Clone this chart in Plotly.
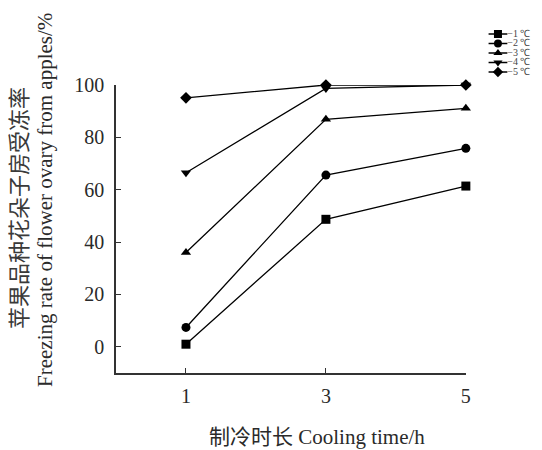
import plotly.graph_objects as go

cooling_time = [1, 3, 5]
series_names = ["−1 ℃", "−2 ℃", "−3 ℃", "−4 ℃", "−5 ℃"]
freeze_m1 = [1.0, 48.7, 61.4]
freeze_m2 = [7.4, 65.6, 75.8]
freeze_m3 = [36.0, 86.9, 91.1]
freeze_m4 = [66.5, 98.7, 100.0]
freeze_m5 = [95.1, 100.0, 100.0]
series_values = [freeze_m1, freeze_m2, freeze_m3, freeze_m4, freeze_m5]
symbols = ["square", "circle", "triangle-up", "triangle-down", "diamond"]
x_ticks = [1, 3, 5]
y_ticks = [0, 20, 40, 60, 80, 100]

W, H = 542, 450
L, R, T, B = 116, 0, 25, 77
pw = W - L - R
ph = H - T - B
plot_right = 470
plot_top = 85

serif = "Liberation Serif, Times New Roman, serif"
cjk = "Liberation Serif, Noto Sans CJK SC, serif"
txt_color = "#2a2a2a"

fig = go.Figure()
for name, vals, sym in zip(series_names, series_values, symbols):
    fig.add_trace(go.Scatter(
        x=cooling_time, y=vals, mode="lines+markers", name=name,
        line=dict(color="black", width=1.3),
        marker=dict(symbol=sym, size=9, color="black"),
        cliponaxis=False, showlegend=False,
    ))

# custom compact legend on auxiliary axes
for i, (name, sym) in enumerate(zip(series_names, symbols)):
    fig.add_trace(go.Scatter(x=[13, 32], y=[i, i], mode="lines",
                             line=dict(color="black", width=1.5),
                             xaxis="x2", yaxis="y2", showlegend=False, cliponaxis=False))
    fig.add_trace(go.Scatter(x=[22.5], y=[i], mode="markers",
                             marker=dict(symbol=sym, size=8, color="black"),
                             xaxis="x2", yaxis="y2", showlegend=False, cliponaxis=False))
    fig.add_trace(go.Scatter(x=[32], y=[i], mode="text", text=[name],
                             textposition="middle right",
                             textfont=dict(family=serif, size=10, color="#444"),
                             xaxis="x2", yaxis="y2", showlegend=False, cliponaxis=False))

leg_top_px, leg_bot_px = 25, 80
first_px, step_px = 34, 9.5
fig.update_layout(
    width=W, height=H,
    margin=dict(l=L, r=R, t=T, b=B, pad=0),
    paper_bgcolor="white", plot_bgcolor="white",
    font=dict(family=serif, size=20, color=txt_color),
    xaxis=dict(
        domain=[0, (plot_right - L) / pw],
        range=[0, 5], tickvals=x_ticks, ticktext=[str(v) for v in x_ticks],
        ticks="inside", ticklen=5, tickcolor="#333", tickwidth=1,
        showline=True, linecolor="#333", linewidth=1.5,
        showgrid=False, zeroline=False, ticklabelstandoff=4,
        tickfont=dict(family=serif, size=20, color=txt_color),
    ),
    yaxis=dict(
        domain=[0, (H - B - plot_top) / ph],
        range=[-10, 100], tickvals=y_ticks,
        ticks="inside", ticklen=5, tickcolor="#333", tickwidth=1,
        showline=True, linecolor="#333", linewidth=1.5,
        showgrid=False, zeroline=False, ticklabelstandoff=6,
        tickfont=dict(family=serif, size=20, color=txt_color),
    ),
    xaxis2=dict(domain=[(480 - L) / pw, 1], range=[0, 62], visible=False,
                anchor="y2"),
    yaxis2=dict(domain=[(H - B - leg_bot_px) / ph, 1],
                range=[(leg_bot_px - first_px) / step_px, (leg_top_px - first_px) / step_px],
                visible=False, anchor="x2"),
    annotations=[
        dict(text="苹果品种花朵子房受冻率", xref="paper", yref="paper",
             x=0, y=(H - B - 208) / ph, xshift=-(L - 19), textangle=-90,
             showarrow=False, xanchor="center", yanchor="middle",
             font=dict(family=cjk, size=22, color="#3a3a3a")),
        dict(text="Freezing rate of flower ovary from apples/%", xref="paper", yref="paper",
             x=0, y=(H - B - 200) / ph, xshift=-(L - 45), textangle=-90,
             showarrow=False, xanchor="center", yanchor="middle",
             font=dict(family=serif, size=21, color=txt_color)),
        dict(text="制冷时长 Cooling time/h", xref="paper", yref="paper",
             x=(319 - L) / pw, y=0, yshift=-(437 - (H - B)),
             showarrow=False, xanchor="center", yanchor="middle",
             font=dict(family=cjk, size=21, color=txt_color)),
    ],
)

fig.write_html("out.html")
